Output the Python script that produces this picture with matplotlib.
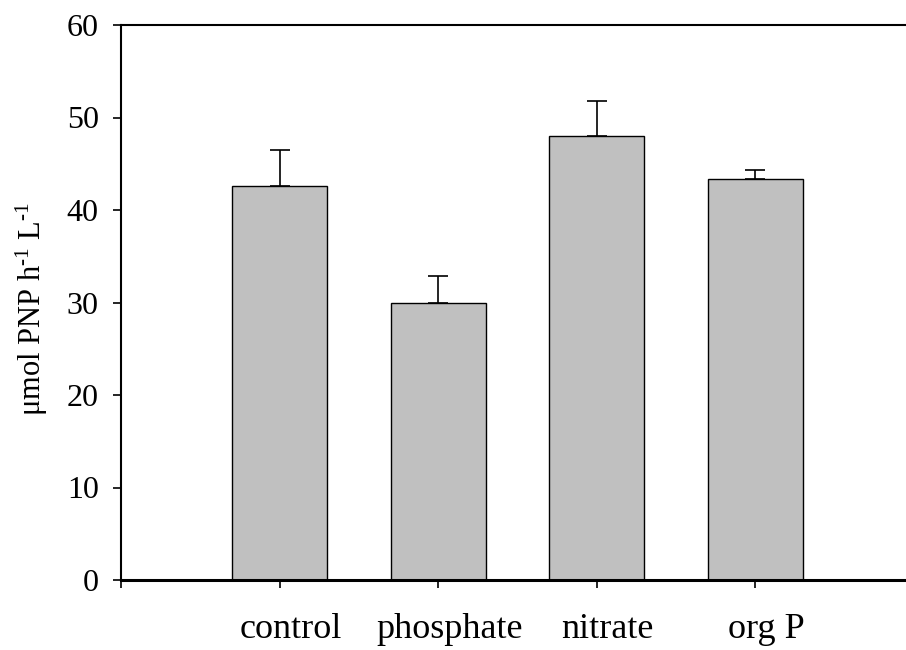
import numpy as np
import matplotlib
matplotlib.use('Agg')
import matplotlib.pyplot as plt
import matplotlib.transforms as mtransforms

categories = ['control', 'phosphate', 'nitrate', 'org P']
means = [42.6, 30.0, 48.0, 43.3]
errs = [3.9, 2.9, 3.8, 1.0]

plt.rcParams['font.family'] = 'Liberation Serif'
plt.rcParams['mathtext.fontset'] = 'custom'
plt.rcParams['mathtext.rm'] = 'Liberation Serif'
plt.rcParams['mathtext.default'] = 'regular'

fig = plt.figure(figsize=(9.06, 6.5), dpi=100)
ax = fig.add_axes([121/906, 70/650, 1 - 121/906, 555/650])

X = np.arange(1, len(categories) + 1)
ax.bar(X, means, width=0.6, color='#c0c0c0', edgecolor='black', linewidth=1.0, zorder=2)
ax.errorbar(X, means, yerr=[np.zeros(len(errs)), errs], fmt='none', ecolor='black',
            elinewidth=1.2, capsize=7, capthick=1.2, zorder=1)

ax.set_xlim(0, 4.95)
ax.set_ylim(0, 60)
ax.set_yticks([0, 10, 20, 30, 40, 50, 60])
ax.set_xticks(np.arange(0, len(categories) + 1))
ax.set_xticklabels([''] + categories)

ax.spines['right'].set_visible(False)
ax.spines['left'].set_linewidth(1.5)
ax.spines['top'].set_linewidth(1.5)
ax.spines['bottom'].set_linewidth(2.2)
ax.tick_params(axis='y', direction='out', length=6, width=1.2, pad=10, labelsize=23)
ax.tick_params(axis='x', direction='out', length=6, width=1.2, pad=18, labelsize=26)

# labels sit a bit right of their ticks in the original
offset = mtransforms.ScaledTranslation(11/100, 0, fig.dpi_scale_trans)
for lab in ax.get_xticklabels():
    lab.set_transform(lab.get_transform() + offset)

fig.text(32/906, 1 - 309/650, 'μmol PNP h$^{\u2010 1}$ L$^{\u2010 1}$', rotation=90,
         ha='center', va='center', fontsize=22)

plt.savefig('out.png', dpi=100)
